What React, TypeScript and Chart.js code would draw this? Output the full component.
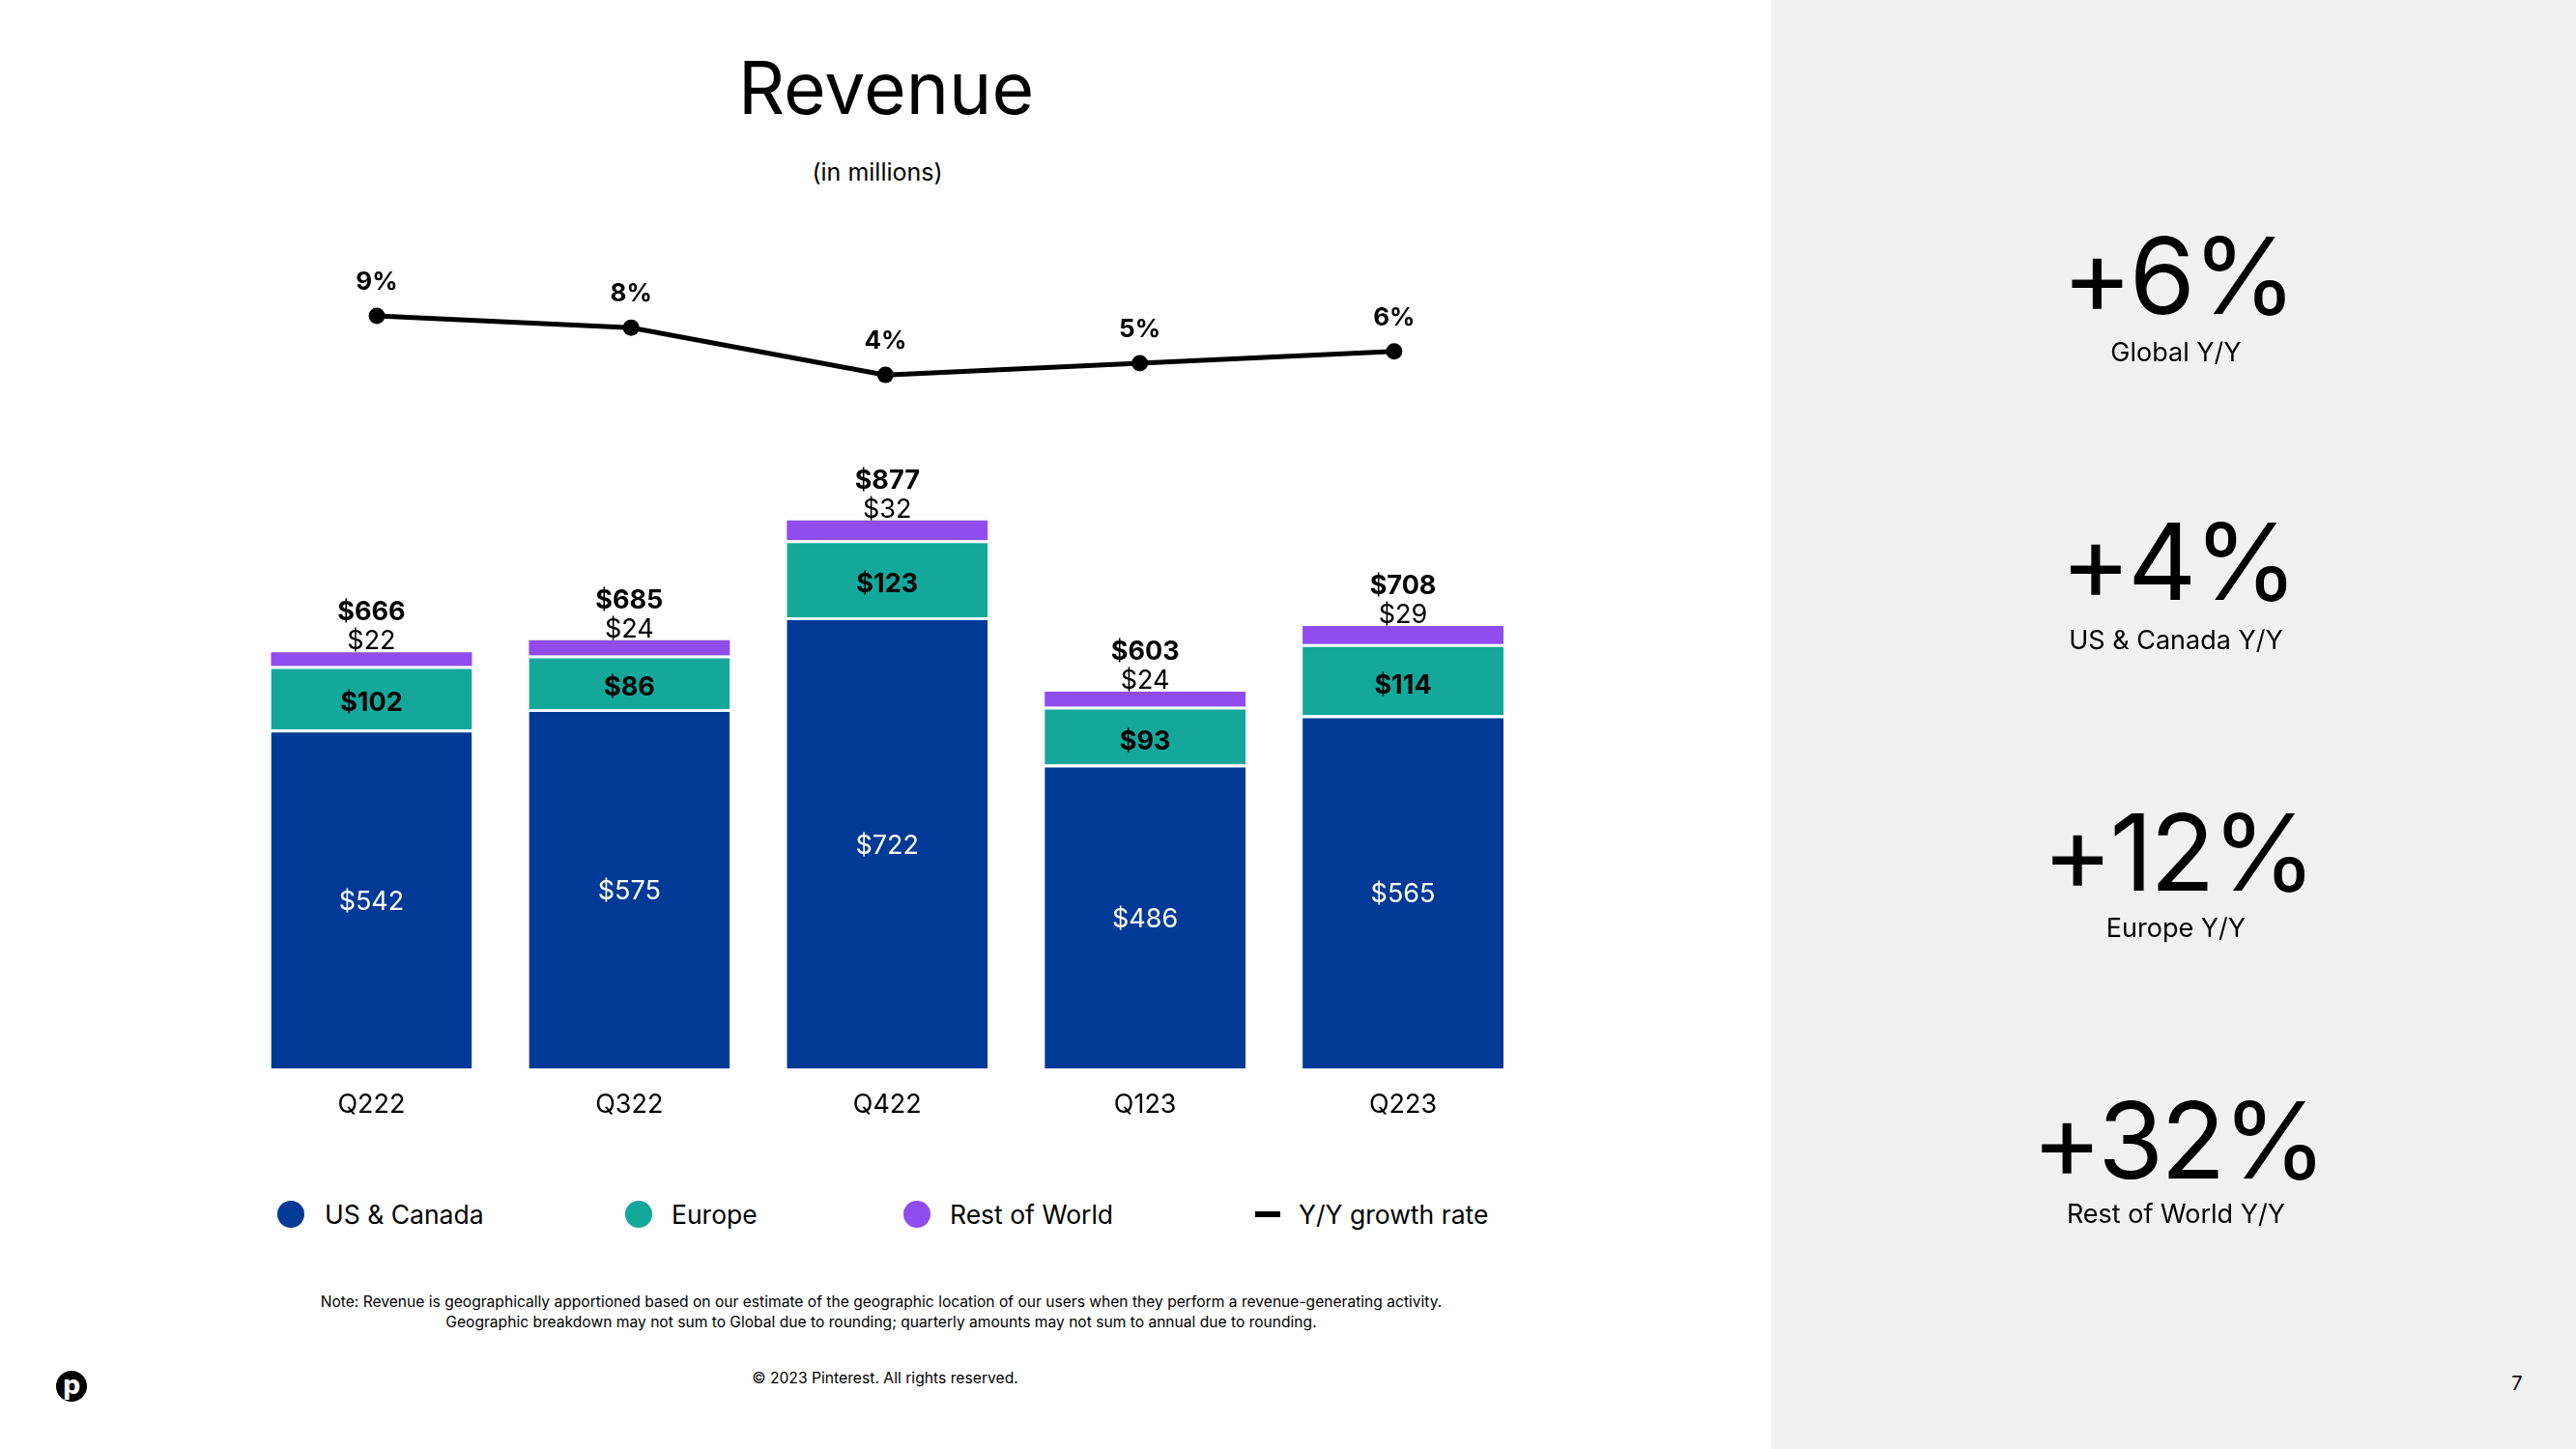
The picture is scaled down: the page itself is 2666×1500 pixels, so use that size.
import React, { useEffect, useRef } from "react";
import { Chart, registerables } from "chart.js";

Chart.register(...registerables);

// ---- Data ----
const categories = ["Q222", "Q322", "Q422", "Q123", "Q223"];
const usCanada = [542, 575, 722, 486, 565];
const europe = [102, 86, 123, 93, 114];
const restOfWorld = [22, 24, 32, 24, 29];
const totals = [666, 685, 877, 603, 708];
const growthRate = [9, 8, 4, 5, 6];

const seriesNames = ["US & Canada", "Europe", "Rest of World", "Y/Y growth rate"];
const highlightValues = ["+6%", "+4%", "+12%", "+32%"];
const highlightLabels = ["Global Y/Y", "US & Canada Y/Y", "Europe Y/Y", "Rest of World Y/Y"];

const BLUE = "#003A96";
const TEAL = "#13A89A";
const PURPLE = "#914CF0";
const FONT = "Inter, 'Noto Sans', sans-serif";

const labelPlugin = {
  id: "valueLabels",
  afterDatasetsDraw(chart: any) {
    const ctx = chart.ctx;
    const us = chart.getDatasetMeta(0);
    const eu = chart.getDatasetMeta(1);
    const row = chart.getDatasetMeta(2);
    const line = chart.getDatasetMeta(3);
    ctx.save();
    ctx.textAlign = "center";
    ctx.textBaseline = "middle";
    us.data.forEach((bar: any, i: number) => {
      const p = bar.getProps(["x", "y", "base"], true);
      ctx.font = `400 27px ${FONT}`;
      ctx.fillStyle = "#ffffff";
      ctx.fillText("$" + usCanada[i], p.x, (p.y + p.base) / 2 + 3);
    });
    eu.data.forEach((bar: any, i: number) => {
      const p = bar.getProps(["x", "y", "base"], true);
      ctx.font = `700 27px ${FONT}`;
      ctx.fillStyle = "#000000";
      ctx.fillText("$" + europe[i], p.x, (p.y + p.base) / 2 + 6);
    });
    row.data.forEach((bar: any, i: number) => {
      const p = bar.getProps(["x", "y", "base"], true);
      ctx.font = `400 27px ${FONT}`;
      ctx.fillStyle = "#000000";
      ctx.fillText("$" + restOfWorld[i], p.x, p.y - 11);
      ctx.font = `700 27px ${FONT}`;
      ctx.fillText("$" + totals[i], p.x, p.y - 41);
    });
    line.data.forEach((pt: any, i: number) => {
      const p = pt.getProps(["x", "y"], true);
      ctx.font = `700 26px ${FONT}`;
      ctx.fillStyle = "#000000";
      ctx.fillText(growthRate[i] + "%", p.x, p.y - 35);
    });
    ctx.restore();
  },
};

function Txt(props: {
  x: number;
  y: number;
  size: number;
  weight?: number;
  align?: "center" | "left";
  color?: string;
  spacing?: string;
  children: React.ReactNode;
}) {
  const { x, y, size, weight = 400, align = "center", color = "#000", spacing } = props;
  const style: React.CSSProperties = {
    position: "absolute",
    top: y - size,
    height: size * 2,
    lineHeight: `${size * 2}px`,
    fontSize: size,
    fontWeight: weight,
    color,
    whiteSpace: "nowrap",
    letterSpacing: spacing,
  };
  if (align === "center") {
    style.left = x - 1000;
    style.width = 2000;
    style.textAlign = "center";
  } else {
    style.left = x;
  }
  return <div style={style}>{props.children}</div>;
}

export default function App() {
  const canvasRef = useRef<HTMLCanvasElement | null>(null);

  useEffect(() => {
    document.body.style.margin = "0";
    const canvas = canvasRef.current;
    if (!canvas) return;
    const barCommon = {
      stack: "rev",
      grouped: false,
      xAxisID: "x",
      yAxisID: "y",
      order: 2,
    };
    const chart = new Chart(canvas, {
      type: "bar",
      data: {
        labels: categories,
        datasets: [
          {
            ...barCommon,
            label: seriesNames[0],
            data: usCanada,
            backgroundColor: BLUE,
            borderColor: "#ffffff",
            borderWidth: { top: 3, left: 0, right: 0, bottom: 0 },
            borderSkipped: "start",
          } as any,
          {
            ...barCommon,
            label: seriesNames[1],
            data: europe,
            backgroundColor: TEAL,
            borderColor: "#ffffff",
            borderWidth: { top: 3, left: 0, right: 0, bottom: 0 },
            borderSkipped: "start",
          } as any,
          {
            ...barCommon,
            label: seriesNames[2],
            data: restOfWorld,
            backgroundColor: PURPLE,
            borderWidth: 0,
          } as any,
          {
            type: "line",
            label: seriesNames[3],
            data: growthRate.map((v, i) => ({ x: i, y: v })),
            borderColor: "#000000",
            backgroundColor: "#000000",
            borderWidth: 5,
            pointRadius: 8.5,
            pointBackgroundColor: "#000000",
            pointBorderWidth: 0,
            tension: 0,
            xAxisID: "x2",
            yAxisID: "y1",
            order: 1,
          } as any,
        ],
      },
      options: {
        responsive: false,
        maintainAspectRatio: false,
        animation: false,
        layout: { padding: { left: 251, right: 247.5, top: 265, bottom: 17.6 } },
        datasets: {
          bar: { categoryPercentage: 1, barPercentage: 0.779 },
        },
        plugins: {
          legend: { display: false },
          tooltip: { enabled: false },
          title: { display: false },
        },
        scales: {
          x: {
            type: "category",
            stacked: true,
            offset: true,
            grid: { display: false, drawTicks: false },
            border: { display: false },
            ticks: { color: "#000", padding: 22, font: { family: FONT, size: 27 } },
          },
          x2: {
            type: "linear",
            display: false,
            offset: false,
            grid: { offset: false },
            bounds: "data",
            min: -0.528,
            max: 4.542,
          },
          y: { stacked: true, display: false, min: 0, max: 1300 },
          y1: { display: false, min: -54.83, max: 14.09 },
        },
      } as any,
      plugins: [labelPlugin],
    });
    return () => chart.destroy();
  }, []);

  const legendItems = [
    { kind: "dot", color: BLUE, cx: 300.5, tx: 336 },
    { kind: "dot", color: TEAL, cx: 661, tx: 695 },
    { kind: "dot", color: PURPLE, cx: 949, tx: 983 },
    { kind: "line", color: "#000", cx: 1312, tx: 1344 },
  ];
  const legendY = 1257;
  const hlY = [285, 581, 882, 1180];
  const hlLabelY = [365, 663, 961, 1257];

  return (
    <div
      style={{
        position: "absolute",
        left: 0,
        top: 0,
        width: 2666,
        height: 1500,
        background: "#ffffff",
        overflow: "hidden",
        fontFamily: FONT,
        color: "#000",
      }}
    >
      <div style={{ position: "absolute", left: 1833, top: 0, width: 833, height: 1500, background: "#F1F1F1" }} />

      <Txt x={917} y={91} size={75} weight={400}>Revenue</Txt>
      <Txt x={908} y={178} size={25}>(in millions)</Txt>

      <canvas
        ref={canvasRef}
        width={1833}
        height={1200}
        style={{ position: "absolute", left: 0, top: 0, width: 1833, height: 1200 }}
      />

      {legendItems.map((it, i) => (
        <React.Fragment key={i}>
          {it.kind === "dot" ? (
            <div
              style={{
                position: "absolute",
                left: it.cx - 14,
                top: legendY - 14,
                width: 28,
                height: 28,
                borderRadius: "50%",
                background: it.color,
              }}
            />
          ) : (
            <div
              style={{
                position: "absolute",
                left: it.cx - 13,
                top: legendY - 3,
                width: 26,
                height: 6,
                background: it.color,
              }}
            />
          )}
          <Txt x={it.tx} y={legendY} size={26.5} align="left">
            {seriesNames[i]}
          </Txt>
        </React.Fragment>
      ))}

      <Txt x={912} y={1348} size={15.6}>
        Note: Revenue is geographically apportioned based on our estimate of the geographic location of our users when they perform a revenue-generating activity.
      </Txt>
      <Txt x={912} y={1369} size={15.6}>
        Geographic breakdown may not sum to Global due to rounding; quarterly amounts may not sum to annual due to rounding.
      </Txt>
      <Txt x={916} y={1427} size={15.7}>© 2023 Pinterest. All rights reserved.</Txt>

      <svg style={{ position: "absolute", left: 58, top: 1419 }} width={32} height={32} viewBox="0 0 32 32">
        <circle cx={16} cy={16} r={16} fill="#000" />
        <text x={16} y={24} textAnchor="middle" fontSize={26} fontWeight={700} fill="#fff" fontFamily="DejaVu Sans, sans-serif">
          p
        </text>
      </svg>

      {highlightValues.map((v, i) => (
        <React.Fragment key={v}>
          <Txt x={2254} y={hlY[i]} size={110} spacing="-3px">{v}</Txt>
          <Txt x={2252} y={hlLabelY[i]} size={27}>{highlightLabels[i]}</Txt>
        </React.Fragment>
      ))}

      <Txt x={2605} y={1432} size={20}>7</Txt>
    </div>
  );
}
